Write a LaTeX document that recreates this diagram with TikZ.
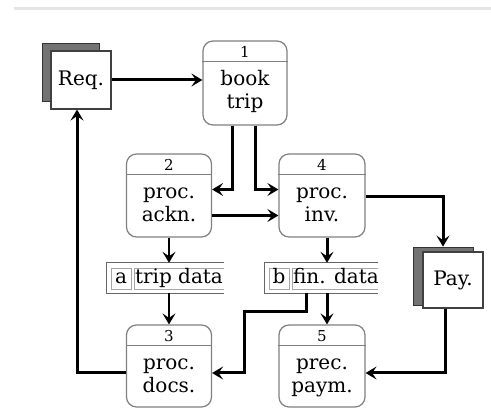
\documentclass[tikz,border=0pt]{standalone}
\usepackage{fontspec}
\setmainfont{DejaVu Serif}
\usetikzlibrary{arrows.meta}
\begin{document}
\begin{tikzpicture}[x=1pt,y=-1pt,
 proc/.style={draw=black!50, line width=1.2pt, rounded corners=10pt, minimum width=85pt, minimum height=83pt, inner sep=0pt, fill=white},
 divl/.style={draw=black!50, line width=1.1pt},
 pnum/.style={font=\fontsize{15}{15}\selectfont, inner sep=0pt, anchor=base},
 ptxt/.style={font=\fontsize{20}{22}\selectfont, inner sep=0pt, anchor=base},
 shadowbox/.style={draw=black!80, fill=black!55, line width=0.8pt, minimum width=57pt, minimum height=58pt, inner sep=0pt},
 entity/.style={draw=black!75, fill=white, line width=1.1pt, minimum width=60pt, minimum height=58pt, inner sep=0pt, font=\fontsize{20}{22}\selectfont},
 storebox/.style={minimum height=30pt, inner sep=0pt},
 storel/.style={draw=black!60, line width=1pt},
 storein/.style={draw=black!35, line width=0.8pt},
 stxt/.style={font=\fontsize{20}{22}\selectfont, inner sep=0pt, anchor=base},
 flow/.style={line width=3pt, -{Stealth[length=11pt,width=13pt,inset=4.5pt]}},
 midflow/.style={line width=2.2pt, -{Stealth[length=11pt,width=13pt,inset=4.5pt]}},
 thinflow/.style={line width=1.5pt, -{Stealth[length=11pt,width=13pt,inset=4.5pt]}},
]
\useasboundingbox (0,0) rectangle (491,417);
\draw[black!10, line width=3pt] (14,9) -- (491,9);

% external entities
\node[shadowbox] (reqs) at (71,72) {};
\node[entity] (req) at (81,80) {Req.};
\node[shadowbox, minimum width=60pt] (pays) at (443,276) {};
\node[entity, minimum height=56pt] (pay) at (453,280) {Pay.};

% processes
\node[proc, minimum width=84pt, minimum height=84pt] (p1) at (245,83) {};
\node[proc] (p2) at (169,195.5) {};
\node[proc, minimum width=86pt] (p4) at (322,195.5) {};
\node[proc, minimum height=82pt] (p3) at (169,366) {};
\node[proc, minimum width=86pt, minimum height=82pt] (p5) at (322,366) {};

\foreach \p/\n/\a/\b in {p1/1/book/trip, p2/2/proc./ackn., p4/4/proc./inv., p3/3/proc./docs., p5/5/prec./paym.}{
  \draw[divl] ([yshift=-21pt]\p.north west) -- ([yshift=-21pt]\p.north east);
  \node[pnum] (\p n) at ([yshift=-17pt]\p.north) {\n};
  \node[ptxt] (\p a) at ([yshift=-45pt]\p.north) {\a};
  \node[ptxt] (\p b) at ([yshift=-68pt]\p.north) {\b};
}

% data stores
\node[storebox, minimum width=117pt] (sa) at (165.5,278) {};
\draw[storel] (sa.north east) -- (sa.north west) -- (sa.south west) -- (sa.south east);
\draw[storein] (111,268) rectangle (131,289);
\draw[storein] (224,268) -- (134,268) -- (134,289) -- (224,289);
\node[stxt] (sal) at (121,284) {a};
\node[stxt] (sat) at (179,284) {trip data};

\node[storebox, minimum width=113pt] (sb) at (321.5,278) {};
\draw[storel] (sb.north east) -- (sb.north west) -- (sb.south west) -- (sb.south east);
\draw[storein] (269,268) rectangle (289,289);
\draw[storein] (378,268) -- (292,268) -- (292,289) -- (378,289);
\node[stxt] (sbl) at (279,284) {b};
\node[stxt] (sbt) at (336,284) {fin. data};

% flows
\coordinate (k1) at (244,312);
\draw[flow] (req.east) -- (req.east -| p1.west);
\draw[flow] ([xshift=-13pt]p1.south) |- ([yshift=6pt]p2.east);
\draw[flow] ([xshift=10pt]p1.south) |- ([yshift=6pt]p4.west);
\draw[flow] ([yshift=-20pt]p2.east) -- ([yshift=-20pt]p4.west);
\draw[flow] ([yshift=-1.5pt]p4.east) -| (pays.north);
\draw[midflow] (p2.south) -- (p2.south |- sa.north);
\draw[thinflow] (p3.north |- sa.south) -- (p3.north);
\draw[flow] ([xshift=5pt]p4.south) -- ([xshift=5pt]p4.south |- sb.north);
\draw[flow] ([xshift=5pt]p5.north |- sb.south) -- ([xshift=5pt]p5.north);
\draw[flow] ([xshift=-15pt]sb.south) |- (k1) |- ([yshift=-7pt]p3.east);
\draw[flow] ([xshift=-8pt]pay.south) |- ([yshift=-7pt]p5.east);
\draw[flow] ([yshift=-7pt]p3.west) -| ([xshift=-4pt]req.south);
\end{tikzpicture}
\end{document}
